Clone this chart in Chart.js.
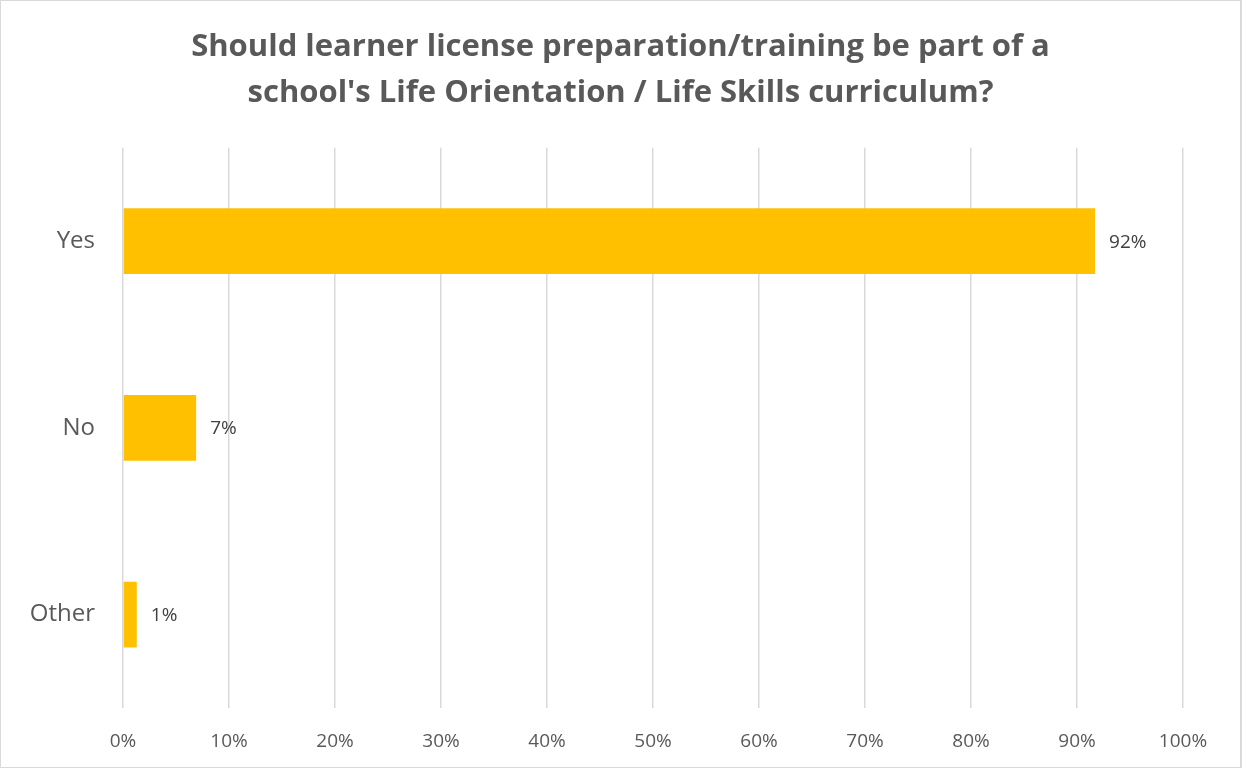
<!DOCTYPE html>
<html>
<head>
<meta charset="utf-8">
<script src="https://cdn.jsdelivr.net/npm/chart.js@4.4.1/dist/chart.umd.min.js"></script>
<style>
  html, body { margin: 0; padding: 0; background: #fff; }
  #wrap { position: relative; width: 1242px; height: 768px; box-sizing: border-box; border: 1px solid #d9d9d9; border-right-width: 2px; }
  canvas { display: block; }
</style>
</head>
<body>
<div id="wrap"><canvas id="chart"></canvas></div>
<script>
// --- data ---
const categories = ["Yes", "No", "Other"];
const shares = [91.7, 6.9, 1.3];
const shareLabels = ["92%", "7%", "1%"];
const titleLines = [
  "Should learner license preparation/training be part of a",
  "school's Life Orientation / Life Skills curriculum?"
];

const FONT = "'Open Sans', 'Noto Sans', sans-serif";
const TITLE_SIZE = 31;
const TITLE_LH = 1.48;
const TITLE_PAD_TOP = 23;

// labels at the end of each bar
const barLabels = {
  id: "barLabels",
  afterDatasetsDraw(chart) {
    const ctx = chart.ctx;
    const meta = chart.getDatasetMeta(0);
    ctx.save();
    ctx.font = "19px " + FONT;
    ctx.fillStyle = "#404040";
    ctx.textBaseline = "middle";
    ctx.textAlign = "left";
    meta.data.forEach((bar, i) => {
      ctx.fillText(shareLabels[i], bar.x + 14, bar.y + 1);
    });
    ctx.restore();
  }
};

// title centred on the whole canvas (the built-in one only reserves space)
const centredTitle = {
  id: "centredTitle",
  afterDraw(chart) {
    const ctx = chart.ctx;
    const top = chart.titleBlock ? chart.titleBlock.top : 0;
    const lh = TITLE_SIZE * TITLE_LH;
    ctx.save();
    ctx.font = "bold " + TITLE_SIZE + "px " + FONT;
    ctx.fillStyle = "#595959";
    ctx.textAlign = "center";
    ctx.textBaseline = "middle";
    titleLines.forEach((line, i) => {
      ctx.fillText(line, chart.width / 2, top + TITLE_PAD_TOP + lh * (i + 0.5));
    });
    ctx.restore();
  }
};

const canvas = document.getElementById("chart");
canvas.width = 1239;
canvas.height = 766;

new Chart(canvas.getContext("2d"), {
  type: "bar",
  data: {
    labels: categories,
    datasets: [{
      data: shares,
      backgroundColor: "#ffc000",
      borderWidth: 0,
      barPercentage: 0.353,
      categoryPercentage: 1
    }]
  },
  options: {
    indexAxis: "y",
    responsive: false,
    animation: false,
    layout: { padding: { left: 0, right: 57, top: 0, bottom: 0 } },
    plugins: {
      legend: { display: false },
      tooltip: { enabled: false },
      title: {
        display: true,
        text: titleLines,
        color: "rgba(0,0,0,0)",
        font: { family: FONT, size: TITLE_SIZE, weight: "bold", lineHeight: TITLE_LH },
        padding: { top: TITLE_PAD_TOP, bottom: 32 }
      }
    },
    scales: {
      x: {
        min: 0,
        max: 100,
        ticks: {
          stepSize: 10,
          color: "#595959",
          font: { family: FONT, size: 19 },
          padding: 22,
          callback: v => v + "%"
        },
        grid: { color: "#d9d9d9", lineWidth: 1.5, tickLength: 0, drawTicks: false },
        border: { display: false },
        afterFit(scale) { scale.height = 59; }
      },
      y: {
        ticks: {
          color: "#595959",
          font: { family: FONT, size: 24 },
          padding: 28
        },
        grid: { display: false, drawTicks: false },
        border: { display: false },
        afterFit(scale) { scale.width = 122; }
      }
    }
  },
  plugins: [barLabels, centredTitle]
});
</script>
</body>
</html>
